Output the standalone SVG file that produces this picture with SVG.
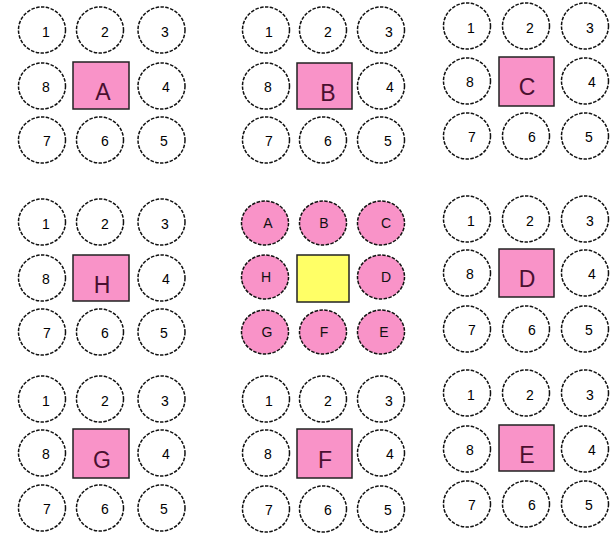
<svg xmlns="http://www.w3.org/2000/svg" width="614" height="533" viewBox="0 0 614 533">
<style>
.c{fill:#fff;stroke:#111;stroke-width:1.5;stroke-dasharray:3.5 1.4}
.p{fill:#f993c8;stroke:#111;stroke-width:1.5;stroke-dasharray:3.5 1.4}
.r{fill:#f993c8;stroke:#222;stroke-width:1.5}
.y{fill:#ffff66;stroke:#222;stroke-width:1.5}
.n{font-family:"Liberation Sans",Arial,sans-serif;font-size:14px;fill:#000;text-anchor:middle}
.l{font-family:"Liberation Sans",Arial,sans-serif;font-size:23px;fill:#4a1030;text-anchor:middle}
.m{font-family:"Liberation Sans",Arial,sans-serif;font-size:14px;fill:#111;text-anchor:middle}
</style>
<rect width="614" height="533" fill="#fff"/>
<g id="connectors"/>

<!-- Panel A -->
<g id="panelA">
<g id="A-1"><ellipse class="c" cx="42" cy="30" rx="23.5" ry="23"/><text class="n" x="46" y="37">1</text></g>
<g id="A-2"><ellipse class="c" cx="100" cy="30" rx="23.5" ry="23"/><text class="n" x="105" y="37">2</text></g>
<g id="A-3"><ellipse class="c" cx="161.5" cy="30" rx="23.5" ry="23"/><text class="n" x="165" y="37">3</text></g>
<g id="A-8"><ellipse class="c" cx="42" cy="86" rx="23.5" ry="23"/><text class="n" x="46" y="92">8</text></g>
<g id="A-box"><rect class="r" x="73" y="62" width="56" height="47"/><text class="l" x="103" y="100">A</text></g>
<g id="A-4"><ellipse class="c" cx="161.5" cy="86" rx="23.5" ry="23"/><text class="n" x="166" y="92">4</text></g>
<g id="A-7"><ellipse class="c" cx="42" cy="140" rx="23.5" ry="23"/><text class="n" x="47" y="146">7</text></g>
<g id="A-6"><ellipse class="c" cx="100" cy="140" rx="23.5" ry="23"/><text class="n" x="105" y="146">6</text></g>
<g id="A-5"><ellipse class="c" cx="161.5" cy="140" rx="23.5" ry="23"/><text class="n" x="164" y="146">5</text></g>
</g>

<!-- Panel B -->
<g id="panelB">
<g id="B-1"><ellipse class="c" cx="266" cy="30" rx="23.5" ry="23"/><text class="n" x="269" y="37">1</text></g>
<g id="B-2"><ellipse class="c" cx="323" cy="30" rx="23.5" ry="23"/><text class="n" x="328" y="37">2</text></g>
<g id="B-3"><ellipse class="c" cx="381" cy="30" rx="23.5" ry="23"/><text class="n" x="389" y="37">3</text></g>
<g id="B-8"><ellipse class="c" cx="266" cy="86" rx="23.5" ry="23"/><text class="n" x="268" y="92">8</text></g>
<g id="B-box"><rect class="r" x="297" y="63" width="55" height="46"/><text class="l" x="328" y="101">B</text></g>
<g id="B-4"><ellipse class="c" cx="381" cy="86" rx="23.5" ry="23"/><text class="n" x="390" y="92">4</text></g>
<g id="B-7"><ellipse class="c" cx="266" cy="140" rx="23.5" ry="23"/><text class="n" x="269" y="146">7</text></g>
<g id="B-6"><ellipse class="c" cx="323" cy="140" rx="23.5" ry="23"/><text class="n" x="328" y="146">6</text></g>
<g id="B-5"><ellipse class="c" cx="381" cy="140" rx="23.5" ry="23"/><text class="n" x="388" y="146">5</text></g>
</g>

<!-- Panel C -->
<g id="panelC">
<g id="C-1"><ellipse class="c" cx="467" cy="26" rx="23.5" ry="23"/><text class="n" x="471" y="33">1</text></g>
<g id="C-2"><ellipse class="c" cx="526" cy="26" rx="23.5" ry="23"/><text class="n" x="530" y="33">2</text></g>
<g id="C-3"><ellipse class="c" cx="585" cy="26" rx="23.5" ry="23"/><text class="n" x="590" y="33">3</text></g>
<g id="C-8"><ellipse class="c" cx="467" cy="81" rx="23.5" ry="23"/><text class="n" x="470" y="87">8</text></g>
<g id="C-box"><rect class="r" x="499" y="57" width="55" height="49"/><text class="l" x="527" y="95">C</text></g>
<g id="C-4"><ellipse class="c" cx="585" cy="81" rx="23.5" ry="23"/><text class="n" x="592" y="87">4</text></g>
<g id="C-7"><ellipse class="c" cx="467" cy="136" rx="23.5" ry="23"/><text class="n" x="472" y="142">7</text></g>
<g id="C-6"><ellipse class="c" cx="526" cy="136" rx="23.5" ry="23"/><text class="n" x="532" y="142">6</text></g>
<g id="C-5"><ellipse class="c" cx="585" cy="136" rx="23.5" ry="23"/><text class="n" x="589" y="142">5</text></g>
</g>

<!-- Panel H -->
<g id="panelH">
<g id="H-1"><ellipse class="c" cx="42" cy="222" rx="23.5" ry="23"/><text class="n" x="46" y="229">1</text></g>
<g id="H-2"><ellipse class="c" cx="100" cy="222" rx="23.5" ry="23"/><text class="n" x="105" y="229">2</text></g>
<g id="H-3"><ellipse class="c" cx="161.5" cy="222" rx="23.5" ry="23"/><text class="n" x="165" y="229">3</text></g>
<g id="H-8"><ellipse class="c" cx="42" cy="278" rx="23.5" ry="23"/><text class="n" x="46" y="284">8</text></g>
<g id="H-box"><rect class="r" x="73" y="255" width="56" height="46"/><text class="l" x="102" y="293">H</text></g>
<g id="H-4"><ellipse class="c" cx="161.5" cy="278" rx="23.5" ry="23"/><text class="n" x="166" y="284">4</text></g>
<g id="H-7"><ellipse class="c" cx="42" cy="332" rx="23.5" ry="23"/><text class="n" x="47" y="338">7</text></g>
<g id="H-6"><ellipse class="c" cx="100" cy="332" rx="23.5" ry="23"/><text class="n" x="105" y="338">6</text></g>
<g id="H-5"><ellipse class="c" cx="161.5" cy="332" rx="23.5" ry="23"/><text class="n" x="164" y="338">5</text></g>
</g>

<!-- Center panel -->
<g id="panelCenter">
<g id="X-A"><ellipse class="p" cx="265" cy="223" rx="23.5" ry="22"/><text class="m" x="268" y="228">A</text></g>
<g id="X-B"><ellipse class="p" cx="323" cy="223" rx="23.5" ry="22"/><text class="m" x="324" y="228">B</text></g>
<g id="X-C"><ellipse class="p" cx="381" cy="223" rx="23.5" ry="22"/><text class="m" x="386" y="228">C</text></g>
<g id="X-H"><ellipse class="p" cx="265" cy="277" rx="23.5" ry="22"/><text class="m" x="266" y="282">H</text></g>
<g id="X-box"><rect class="y" x="297" y="255" width="52" height="47"/></g>
<g id="X-D"><ellipse class="p" cx="381" cy="277" rx="23.5" ry="22"/><text class="m" x="386" y="282">D</text></g>
<g id="X-G"><ellipse class="p" cx="265" cy="332" rx="23.5" ry="22"/><text class="m" x="267" y="337">G</text></g>
<g id="X-F"><ellipse class="p" cx="323" cy="332" rx="23.5" ry="22"/><text class="m" x="324" y="337">F</text></g>
<g id="X-E"><ellipse class="p" cx="381" cy="332" rx="23.5" ry="22"/><text class="m" x="384" y="337">E</text></g>
</g>

<!-- Panel D -->
<g id="panelD">
<g id="D-1"><ellipse class="c" cx="467" cy="219" rx="23.5" ry="23"/><text class="n" x="471" y="226">1</text></g>
<g id="D-2"><ellipse class="c" cx="526" cy="219" rx="23.5" ry="23"/><text class="n" x="530" y="226">2</text></g>
<g id="D-3"><ellipse class="c" cx="585" cy="219" rx="23.5" ry="23"/><text class="n" x="590" y="226">3</text></g>
<g id="D-8"><ellipse class="c" cx="467" cy="273" rx="23.5" ry="23"/><text class="n" x="470" y="279">8</text></g>
<g id="D-box"><rect class="r" x="499" y="249" width="55" height="48"/><text class="l" x="527" y="287">D</text></g>
<g id="D-4"><ellipse class="c" cx="585" cy="273" rx="23.5" ry="23"/><text class="n" x="592" y="279">4</text></g>
<g id="D-7"><ellipse class="c" cx="467" cy="329" rx="23.5" ry="23"/><text class="n" x="472" y="335">7</text></g>
<g id="D-6"><ellipse class="c" cx="526" cy="329" rx="23.5" ry="23"/><text class="n" x="532" y="335">6</text></g>
<g id="D-5"><ellipse class="c" cx="585" cy="329" rx="23.5" ry="23"/><text class="n" x="589" y="335">5</text></g>
</g>

<!-- Panel G -->
<g id="panelG">
<g id="G-1"><ellipse class="c" cx="42" cy="399" rx="23.5" ry="23"/><text class="n" x="46" y="406">1</text></g>
<g id="G-2"><ellipse class="c" cx="100" cy="399" rx="23.5" ry="23"/><text class="n" x="105" y="406">2</text></g>
<g id="G-3"><ellipse class="c" cx="161.5" cy="399" rx="23.5" ry="23"/><text class="n" x="165" y="406">3</text></g>
<g id="G-8"><ellipse class="c" cx="42" cy="453" rx="23.5" ry="23"/><text class="n" x="46" y="459">8</text></g>
<g id="G-box"><rect class="r" x="73" y="429" width="56" height="49"/><text class="l" x="102" y="468">G</text></g>
<g id="G-4"><ellipse class="c" cx="161.5" cy="453" rx="23.5" ry="23"/><text class="n" x="166" y="459">4</text></g>
<g id="G-7"><ellipse class="c" cx="42" cy="508" rx="23.5" ry="23"/><text class="n" x="47" y="514">7</text></g>
<g id="G-6"><ellipse class="c" cx="100" cy="508" rx="23.5" ry="23"/><text class="n" x="105" y="514">6</text></g>
<g id="G-5"><ellipse class="c" cx="161.5" cy="508" rx="23.5" ry="23"/><text class="n" x="164" y="514">5</text></g>
</g>

<!-- Panel F -->
<g id="panelF">
<g id="F-1"><ellipse class="c" cx="266" cy="399" rx="23.5" ry="23"/><text class="n" x="269" y="406">1</text></g>
<g id="F-2"><ellipse class="c" cx="323" cy="399" rx="23.5" ry="23"/><text class="n" x="328" y="406">2</text></g>
<g id="F-3"><ellipse class="c" cx="381" cy="399" rx="23.5" ry="23"/><text class="n" x="389" y="406">3</text></g>
<g id="F-8"><ellipse class="c" cx="266" cy="453" rx="23.5" ry="23"/><text class="n" x="268" y="459">8</text></g>
<g id="F-box"><rect class="r" x="297" y="429" width="55" height="49"/><text class="l" x="325" y="468">F</text></g>
<g id="F-4"><ellipse class="c" cx="381" cy="453" rx="23.5" ry="23"/><text class="n" x="390" y="459">4</text></g>
<g id="F-7"><ellipse class="c" cx="266" cy="509" rx="23.5" ry="23"/><text class="n" x="269" y="515">7</text></g>
<g id="F-6"><ellipse class="c" cx="323" cy="509" rx="23.5" ry="23"/><text class="n" x="328" y="515">6</text></g>
<g id="F-5"><ellipse class="c" cx="381" cy="509" rx="23.5" ry="23"/><text class="n" x="388" y="515">5</text></g>
</g>

<!-- Panel E -->
<g id="panelE">
<g id="E-1"><ellipse class="c" cx="467" cy="393" rx="23.5" ry="23"/><text class="n" x="471" y="400">1</text></g>
<g id="E-2"><ellipse class="c" cx="526" cy="393" rx="23.5" ry="23"/><text class="n" x="530" y="400">2</text></g>
<g id="E-3"><ellipse class="c" cx="585" cy="393" rx="23.5" ry="23"/><text class="n" x="590" y="400">3</text></g>
<g id="E-8"><ellipse class="c" cx="467" cy="449" rx="23.5" ry="23"/><text class="n" x="470" y="455">8</text></g>
<g id="E-box"><rect class="r" x="499" y="425" width="55" height="46"/><text class="l" x="527" y="463">E</text></g>
<g id="E-4"><ellipse class="c" cx="585" cy="449" rx="23.5" ry="23"/><text class="n" x="592" y="455">4</text></g>
<g id="E-7"><ellipse class="c" cx="467" cy="504" rx="23.5" ry="23"/><text class="n" x="472" y="510">7</text></g>
<g id="E-6"><ellipse class="c" cx="526" cy="504" rx="23.5" ry="23"/><text class="n" x="532" y="510">6</text></g>
<g id="E-5"><ellipse class="c" cx="585" cy="504" rx="23.5" ry="23"/><text class="n" x="589" y="510">5</text></g>
</g>
</svg>
